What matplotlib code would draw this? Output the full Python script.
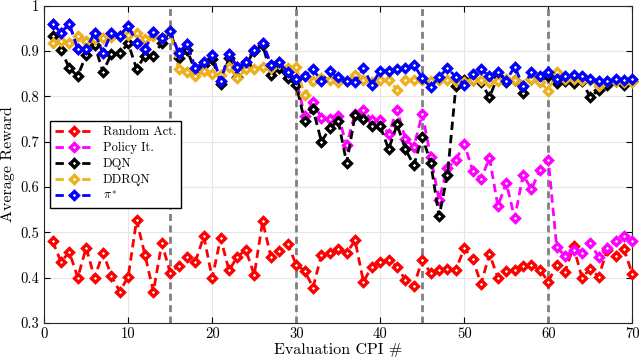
import numpy as np
import matplotlib
matplotlib.use("Agg")
import matplotlib.pyplot as plt

plt.rcParams["font.family"] = "serif"
plt.rcParams["font.serif"] = ["cmr10", "DejaVu Serif"]
plt.rcParams["mathtext.fontset"] = "cm"
plt.rcParams["axes.unicode_minus"] = False

cpi = np.arange(1, 71)

random_act = [0.480, 0.435, 0.456, 0.400, 0.466, 0.399, 0.455, 0.404, 0.369, 0.402,
              0.527, 0.450, 0.369, 0.476, 0.411, 0.426, 0.445, 0.435, 0.491, 0.399,
              0.487, 0.416, 0.446, 0.461, 0.406, 0.524, 0.445, 0.458, 0.474, 0.428,
              0.415, 0.378, 0.450, 0.454, 0.463, 0.454, 0.482, 0.391, 0.424, 0.435,
              0.439, 0.424, 0.395, 0.382, 0.439, 0.410, 0.416, 0.419, 0.417, 0.465,
              0.441, 0.386, 0.452, 0.400, 0.415, 0.417, 0.426, 0.428, 0.417, 0.391,
              0.428, 0.413, 0.469, 0.400, 0.419, 0.402, 0.461, 0.448, 0.463, 0.408]

policy_it = [0.960, 0.941, 0.960, 0.904, 0.904, 0.941, 0.896, 0.941, 0.934, 0.956,
             0.919, 0.904, 0.943, 0.929, 0.944, 0.896, 0.916, 0.862, 0.875, 0.892,
             0.834, 0.894, 0.865, 0.875, 0.903, 0.918, 0.870, 0.875, 0.853, 0.838,
             0.757, 0.787, 0.753, 0.751, 0.756, 0.693, 0.762, 0.770, 0.747, 0.748,
             0.716, 0.771, 0.705, 0.689, 0.762, 0.667, 0.572, 0.642, 0.660, 0.695,
             0.636, 0.618, 0.664, 0.558, 0.609, 0.531, 0.627, 0.595, 0.638, 0.660,
             0.467, 0.448, 0.461, 0.454, 0.477, 0.445, 0.465, 0.480, 0.492, 0.480]

dqn = [0.933, 0.903, 0.862, 0.845, 0.892, 0.914, 0.854, 0.894, 0.895, 0.917,
       0.861, 0.890, 0.890, 0.918, 0.944, 0.885, 0.903, 0.855, 0.870, 0.883,
       0.828, 0.885, 0.842, 0.870, 0.900, 0.914, 0.848, 0.862, 0.840, 0.826,
       0.745, 0.772, 0.700, 0.730, 0.746, 0.653, 0.758, 0.750, 0.734, 0.734,
       0.683, 0.738, 0.683, 0.648, 0.711, 0.654, 0.535, 0.627, 0.822, 0.836,
       0.836, 0.831, 0.798, 0.845, 0.832, 0.836, 0.807, 0.838, 0.843, 0.845,
       0.829, 0.834, 0.829, 0.834, 0.798, 0.815, 0.826, 0.834, 0.826, 0.834]

ddrqn = [0.918, 0.923, 0.919, 0.934, 0.923, 0.926, 0.929, 0.931, 0.934, 0.935,
         0.940, 0.926, 0.933, 0.930, 0.944, 0.860, 0.853, 0.845, 0.855, 0.850,
         0.848, 0.866, 0.840, 0.860, 0.860, 0.866, 0.862, 0.877, 0.862, 0.866,
         0.803, 0.834, 0.840, 0.836, 0.832, 0.834, 0.848, 0.836, 0.831, 0.836,
         0.836, 0.815, 0.836, 0.836, 0.836, 0.834, 0.836, 0.836, 0.834, 0.832,
         0.836, 0.836, 0.831, 0.834, 0.838, 0.836, 0.826, 0.838, 0.832, 0.813,
         0.853, 0.838, 0.838, 0.836, 0.836, 0.822, 0.834, 0.834, 0.832, 0.831]

pi_star = [0.960, 0.941, 0.960, 0.904, 0.904, 0.941, 0.896, 0.941, 0.934, 0.956,
           0.919, 0.904, 0.943, 0.929, 0.944, 0.896, 0.916, 0.862, 0.875, 0.892,
           0.834, 0.894, 0.865, 0.875, 0.903, 0.918, 0.870, 0.875, 0.853, 0.838,
           0.846, 0.860, 0.833, 0.855, 0.842, 0.835, 0.832, 0.862, 0.826, 0.857,
           0.857, 0.860, 0.862, 0.870, 0.840, 0.820, 0.843, 0.862, 0.843, 0.826,
           0.850, 0.860, 0.845, 0.853, 0.835, 0.866, 0.823, 0.853, 0.845, 0.853,
           0.838, 0.845, 0.848, 0.845, 0.838, 0.833, 0.834, 0.839, 0.836, 0.839]

phase_edges = [15, 30, 45, 60]

series = [
    ("Random Act.", random_act, "#FF0000"),
    ("Policy It.", policy_it, "#FF00FF"),
    ("DQN", dqn, "#000000"),
    ("DDRQN", ddrqn, "#EDB120"),
    (r"$\pi^{*}$", pi_star, "#0000FF"),
]

fig = plt.figure(figsize=(6.4, 3.64), dpi=100)
ax = fig.add_axes([0.069, 0.113, 0.919, 0.871])

for xv in phase_edges:
    ax.axvline(xv, color="#808080", lw=2, dashes=(2.5, 1.6), zorder=1)

for name, vals, col in series:
    ax.plot(cpi, vals, color=col, lw=2.0, dashes=(3, 1.8), marker="D", ms=4,
            mfc="white", mec=col, mew=2.4, label=name, zorder=3, clip_on=False)

ax.set_xlim(0, 70)
ax.set_ylim(0.3, 1.0)
ax.set_xticks(range(0, 71, 10))
yt = [0.3, 0.4, 0.5, 0.6, 0.7, 0.8, 0.9, 1.0]
ax.set_yticks(yt)
ax.set_yticklabels(["0.3", "0.4", "0.5", "0.6", "0.7", "0.8", "0.9", "1"])
ax.tick_params(direction="in", top=True, right=True, labelsize=10.5, length=4, width=0.8)
ax.grid(True, color="#e6e6e6", lw=0.8, zorder=0)
ax.set_axisbelow(True)
for s in ax.spines.values():
    s.set_color("#262626")
    s.set_linewidth(0.8)

ax.set_xlabel("Evaluation CPI #", fontsize=11.5, labelpad=1)
ax.set_ylabel("Average Reward", fontsize=11.5, labelpad=4)

leg = ax.legend(loc="upper left", bbox_to_anchor=(0.01, 0.636), borderaxespad=0,
                fontsize=9, handlelength=3.0, fancybox=False, framealpha=1,
                edgecolor="black", borderpad=0.4, labelspacing=0.3, handletextpad=0.8)
leg.get_frame().set_linewidth(1.0)

fig.savefig("out.png", dpi=100)
